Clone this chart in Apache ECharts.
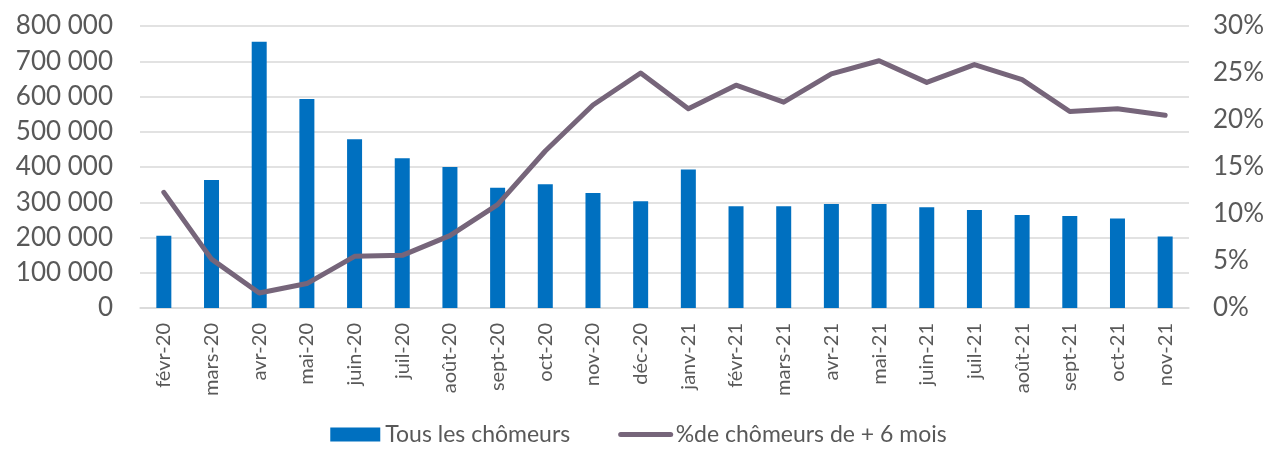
<!DOCTYPE html>
<html>
<head>
<meta charset="utf-8">
<script src="https://cdn.jsdelivr.net/npm/echarts@6/dist/echarts.min.js"></script>
<style>
  html, body { margin: 0; padding: 0; background: #fff; }
  #chart { width: 1277px; height: 453px; }
</style>
</head>
<body>
<div id="chart"></div>
<script>
// months shown on the x axis
const months = ['févr-20', 'mars-20', 'avr-20', 'mai-20', 'juin-20', 'juil-20', 'août-20', 'sept-20',
  'oct-20', 'nov-20', 'déc-20', 'janv-21', 'févr-21', 'mars-21', 'avr-21', 'mai-21', 'juin-21',
  'juil-21', 'août-21', 'sept-21', 'oct-21', 'nov-21'];

// all unemployed (left axis)
const allUnemployed = [205000, 363000, 755000, 593000, 479000, 425000, 400000, 341000,
  351000, 326000, 303000, 393000, 289000, 289000, 295000, 295000, 286000,
  278000, 264000, 261000, 254000, 203000];

// share unemployed for more than 6 months, in % (right axis)
const longTermShare = [12.3, 5.2, 1.6, 2.6, 5.5, 5.6, 7.7, 11.0,
  16.7, 21.6, 25.0, 21.2, 23.7, 21.9, 24.9, 26.3, 24.0,
  25.9, 24.3, 20.9, 21.2, 20.5];

const seriesNames = ['Tous les chômeurs', '%de chômeurs de + 6 mois'];

var chart = echarts.init(document.getElementById('chart'));
const labelFont = 'Lato, "Noto Sans", sans-serif';
const lineColor = '#76657A';

var option = {
    animation: false,
    textStyle: { fontFamily: labelFont },
    grid: { left: 140, right: 88, top: 26, bottom: 145 },
    legend: {
        bottom: 2,
        left: 'center',
        itemGap: 48,
        itemWidth: 50,
        itemHeight: 14,
        textStyle: { fontSize: 23, color: '#595959', fontFamily: labelFont },
        lineStyle: { width: 5, cap: 'round' },
        data: [
            { name: seriesNames[0], icon: 'rect' },
            {
                name: seriesNames[1],
                itemStyle: { opacity: 0 },
                lineStyle: { color: lineColor, width: 5, cap: 'round' }
            }
        ]
    },
    xAxis: {
        type: 'category',
        data: months,
        axisTick: { show: false },
        axisLine: { lineStyle: { color: '#D9D9D9', width: 1.5 } },
        axisLabel: {
            interval: 0,
            rotate: 90,
            margin: 15,
            fontSize: 20,
            color: '#595959'
        }
    },
    yAxis: [
        {
            type: 'value',
            min: 0,
            max: 800000,
            interval: 100000,
            axisLine: { show: false },
            axisTick: { show: false },
            splitLine: { lineStyle: { color: '#D9D9D9', width: 1.5 } },
            axisLabel: {
                margin: 27,
                fontSize: 26,
                color: '#595959',
                formatter: function (v) {
                    return String(v).replace(/\B(?=(\d{3})+(?!\d))/g, ' ');
                }
            }
        },
        {
            type: 'value',
            min: 0,
            max: 30,
            interval: 5,
            axisLine: { show: false },
            axisTick: { show: false },
            splitLine: { show: false },
            axisLabel: {
                margin: 24,
                fontSize: 26,
                color: '#595959',
                formatter: '{value}%'
            }
        }
    ],
    series: [
        {
            name: seriesNames[0],
            type: 'bar',
            barWidth: 15,
            itemStyle: { color: '#0070C0' },
            data: allUnemployed
        },
        {
            name: seriesNames[1],
            type: 'line',
            yAxisIndex: 1,
            symbol: 'none',
            itemStyle: { color: lineColor },
            lineStyle: { color: lineColor, width: 5, cap: 'round', join: 'round' },
            data: longTermShare
        }
    ]
};

chart.setOption(option);
</script>
</body>
</html>
